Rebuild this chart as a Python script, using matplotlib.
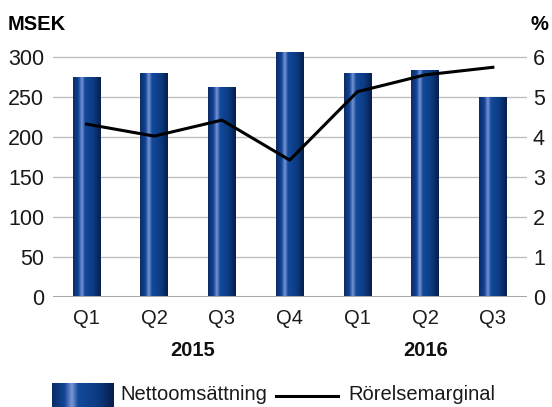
import numpy as np
import matplotlib.pyplot as plt
from matplotlib.colors import LinearSegmentedColormap
from matplotlib.transforms import blended_transform_factory

# data
quarters = ["Q1", "Q2", "Q3", "Q4", "Q1", "Q2", "Q3"]
years = ["2015", "2016"]
year_pos = [1.57, 5.0]
netto = [275, 280, 262, 306, 279, 283, 250]
marginal = [4.33, 4.03, 4.43, 3.43, 5.14, 5.56, 5.75]

plt.rcParams['font.family'] = ['Liberation Sans', 'DejaVu Sans']

W, H = 552, 407
fig = plt.figure(figsize=(W / 100, H / 100), dpi=100)

# bar gradient
grad = LinearSegmentedColormap.from_list("bar", [
    (0.0, "#0b2c66"), (0.2, "#134497"), (0.32, "#7b98d6"),
    (0.42, "#134a9c"), (0.75, "#0b3a80"), (1.0, "#091d4a")])
gimg = np.linspace(0, 1, 200).reshape(1, -1)

left, right = 52.7 / W, 526.7 / W
y0 = 297.3
ax = fig.add_axes([left, 1 - y0 / H, right - left, 310 * 0.8 / H])
ax2 = ax.twinx()

bw = 0.41
x = np.arange(len(quarters))
for xi, h in zip(x, netto):
    ax.imshow(gimg, cmap=grad, aspect='auto', extent=[xi - bw / 2, xi + bw / 2, 0, h],
              interpolation='bicubic', zorder=2)

ax.set_xlim(-0.5, len(quarters) - 0.5)
ax.set_ylim(0, 310)
ax2.set_ylim(0, 6.2)
ax.set_yticks(np.arange(0, 301, 50))
ax2.set_yticks(np.arange(0, 7, 1))
for yv in np.arange(50, 301, 50):
    ax.axhline(yv, color="#c0c0c0", lw=1, zorder=1)
ax.axhline(0, color="#a6a6a6", lw=2.2, zorder=3)

ax2.plot(x, marginal, color="black", lw=2.2, zorder=4)

for a in (ax, ax2):
    for s in a.spines.values():
        s.set_visible(False)
    a.tick_params(length=0, labelsize=15.5, colors="#1a1a1a")
ax.tick_params(axis='y', pad=6.0)
ax2.tick_params(axis='y', pad=4.5)
ax.set_xticks([])

tr = blended_transform_factory(ax.transData, fig.transFigure)
for xi, q in zip(x, quarters):
    ax.text(xi, 1 - 319 / H, q, transform=tr, ha='center', va='center', fontsize=14.5, color="#1a1a1a")
for xp, yr in zip(year_pos, years):
    ax.text(xp, 1 - 350 / H, yr, transform=tr, ha='center', va='center', fontsize=14.5,
            fontweight='bold', color="#111111")

fig.text(8 / W, 1 - 25 / H, "MSEK", ha='left', va='center', fontsize=14.5, fontweight='bold')
fig.text(548 / W, 1 - 25 / H, "%", ha='right', va='center', fontsize=14.5, fontweight='bold')

# legend
lax = fig.add_axes([52 / W, 0, 61 / W, (H - 383) / H])
lax.imshow(gimg, cmap=grad, aspect='auto', interpolation='bicubic')
lax.axis('off')
fig.text(120 / W, 1 - 395 / H, "Nettoomsättning", ha='left', va='center', fontsize=14.5, color="#1a1a1a")
fig.add_artist(plt.Line2D([276 / W, 338 / W], [1 - 395.7 / H] * 2, color="black", lw=2.2))
fig.text(348 / W, 1 - 395 / H, "Rörelsemarginal", ha='left', va='center', fontsize=14.5, color="#1a1a1a")

fig.savefig("out.png", dpi=100)
